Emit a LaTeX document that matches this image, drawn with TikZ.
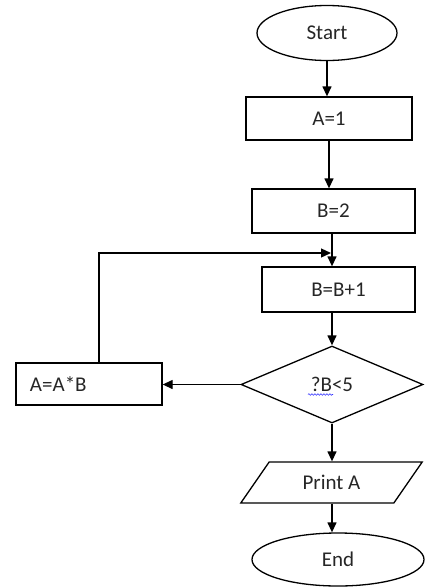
\documentclass[tikz,border=0pt]{standalone}
\usepackage{fontspec}
\setmainfont{Carlito}
\usetikzlibrary{shapes.geometric,arrows.meta,decorations.pathmorphing}
\begin{document}
\begin{tikzpicture}[x=1pt,y=-1pt,
  every node/.style={font=\fontsize{21}{24}\selectfont, text=black!85, inner sep=0pt},
  box/.style={draw, line width=1.3pt, rectangle},
  term/.style={draw, line width=1.3pt, ellipse},
  arr/.style={line width=1.3pt, -{Triangle[length=10pt,width=9pt]}},
  ln/.style={line width=1.3pt}]
\useasboundingbox (0,0) rectangle (425,587);
\node[term, minimum width=140pt, minimum height=55pt] (start) at (327,33) {Start};
\node[box, minimum width=166pt, minimum height=43pt] (a1) at (329,118.5) {A=1};
\node[box, minimum width=163pt, minimum height=44pt] (b2) at (333.5,211) {B=2};
\node[box, minimum width=153pt, minimum height=45pt] (b3) at (338.5,289.5) {B=B+1};
\node[draw, line width=1.3pt, diamond, aspect=2.36, minimum width=182pt, minimum height=77pt] (dec) at (332,384.5) {?B<5};
\node[box, minimum width=146pt, minimum height=42pt, text width=118pt, align=left, inner xsep=14pt] (mul) at (89,384) {A=A*B};
\node[draw, line width=1.3pt, trapezium, trapezium left angle=48, trapezium right angle=132, trapezium stretches=true, minimum width=183pt, minimum height=41pt] (pr) at (331.5,482.5) {Print A};
\node[term, minimum width=172pt, minimum height=53pt] (end) at (338,559.5) {End};
\coordinate (fbx) at (99,253);
\coordinate (fb) at (331,253);
\draw[arr] (start.south) -- (start.south |- a1.north);
\draw[arr] (a1.south) -- (a1.south |- b2.north);
\draw[arr] (dec.north |- b2.south) -- (dec.north |- b3.north);
\draw[arr] (dec.north |- b3.south) -- (dec.north);
\draw[arr] (dec.west) -- (dec.west -| mul.east);
\draw[arr] (mul.north -| fbx) |- (fb);
\draw[arr] (dec.south) -- (dec.south |- pr.north);
\draw[arr] (dec.south |- pr.south) -- (dec.south |- end.north);
\draw[blue!80, line width=0.6pt, decorate, decoration={snake, amplitude=0.8pt, segment length=3pt}] ([xshift=-24pt,yshift=-10pt]dec.center) -- ([xshift=1pt,yshift=-10pt]dec.center);
\end{tikzpicture}
\end{document}
